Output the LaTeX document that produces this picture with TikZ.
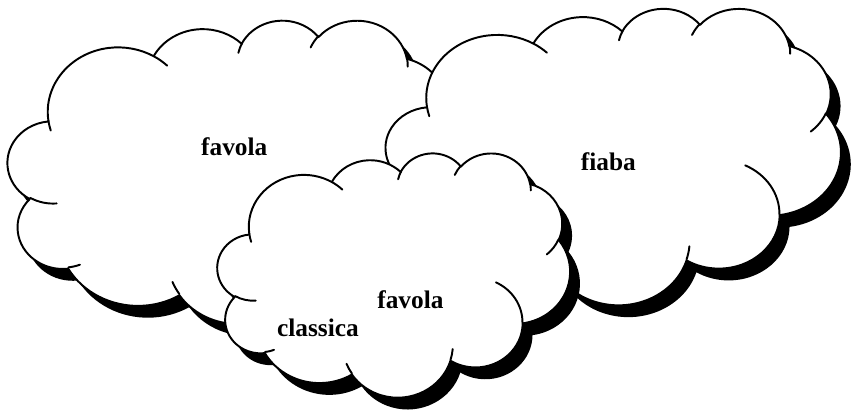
\documentclass[tikz,border=0pt]{standalone}
\usepackage{fontspec}
\setmainfont{Liberation Serif}
% one lobe: x radius, y radius, start and sweep (angles as seen from the centre)
\newcommand\puff[4]{arc[start angle={atan2(#1*sin(#3),#2*cos(#3))},
  delta angle={mod(atan2(#1*sin(#3+#4),#2*cos(#3+#4))-atan2(#1*sin(#3),#2*cos(#3))+720,360)},
  x radius=#1, y radius=#2]}
% outline of a cloud in a 43.2 x 43.2 box
\newcommand\cloudline{(3.9,14.37) \puff{6.753}{9.19}{-190.4875}{123.7805}
  \puff{5.333}{7.267}{-144.1024}{89.9452} \puff{4.365}{5.945}{-145.8079}{99.723}
  \puff{4.857}{6.595}{-130.9861}{117.2417} \puff{5.333}{7.273}{-78.7089}{109.0269}
  \puff{6.775}{9.22}{-46.2673}{130.269} \puff{5.785}{7.867}{0.625}{114.0333}
  \puff{6.752}{9.215}{22.4516}{115.1726} \puff{7.72}{10.543}{66.2426}{75.711}
  \puff{4.36}{5.918}{-274.9421}{146.7356} \puff{4.345}{5.945}{-246.8285}{152.5189} -- cycle}
% the little inner arcs
\newcommand\cloudstubs{(4.693,26.177) \puff{4.345}{5.945}{86.742}{26.4295}
  (6.928,34.899) \puff{4.36}{5.918}{73.6105}{11.4475}
  (16.478,39.09) \puff{6.752}{9.215}{137.6242}{14.0811}
  (28.827,34.751) \puff{6.752}{9.215}{6.4533}{15.9984}
  (34.129,22.954) \puff{5.785}{7.867}{-70.2924}{70.9174}
  (41.798,15.354) \puff{5.333}{7.273}{30.318}{27.7515}
  (38.324,5.426) \puff{4.857}{6.595}{-13.7443}{14.8589}
  (29.078,3.952) \puff{4.857}{6.595}{-149.1815}{18.1954}
  (22.141,4.72) \puff{4.365}{5.945}{-163.4943}{17.6864}
  (14,5.192) \puff{6.753}{9.19}{-66.707}{12.3194}
  (4.127,15.789) \puff{6.753}{9.19}{157.6544}{11.8582}}
\begin{document}
\begin{tikzpicture}[x=0.025cm, y=-0.025cm, line join=round, line cap=round,
  cloud/.style={line width=1.4pt, draw=black, fill=white},
  stub/.style={line width=1.4pt, draw=black},
  word/.style={font=\fontsize{18.3}{20}\selectfont\bfseries, anchor=base, inner sep=0pt}]
  \fill[white] (0,0) rectangle (860,413);
  % left, right and middle cloud: corner, width, height
  \foreach \cx/\cy/\cw/\cht in {7/20/457/308, 391/8/462/301, 220/155/358/248}{
    \fill[shift={(\cx+10,\cy+12)}, xscale=\cw/43.2, yscale=\cht/43.2] \cloudline;
    \path[cloud, shift={(\cx,\cy)}, xscale=\cw/43.2, yscale=\cht/43.2] \cloudline;
    \path[stub, shift={(\cx,\cy)}, xscale=\cw/43.2, yscale=\cht/43.2] \cloudstubs;
  }
  \node[word] (lfav) at (237,158) {favola};
  \node[word] (fia) at (617,173) {fiaba};
  \node[word] (mfav) at (416,313) {favola};
  \node[word] (cla) at (322,342) {classica};
\end{tikzpicture}
\end{document}
